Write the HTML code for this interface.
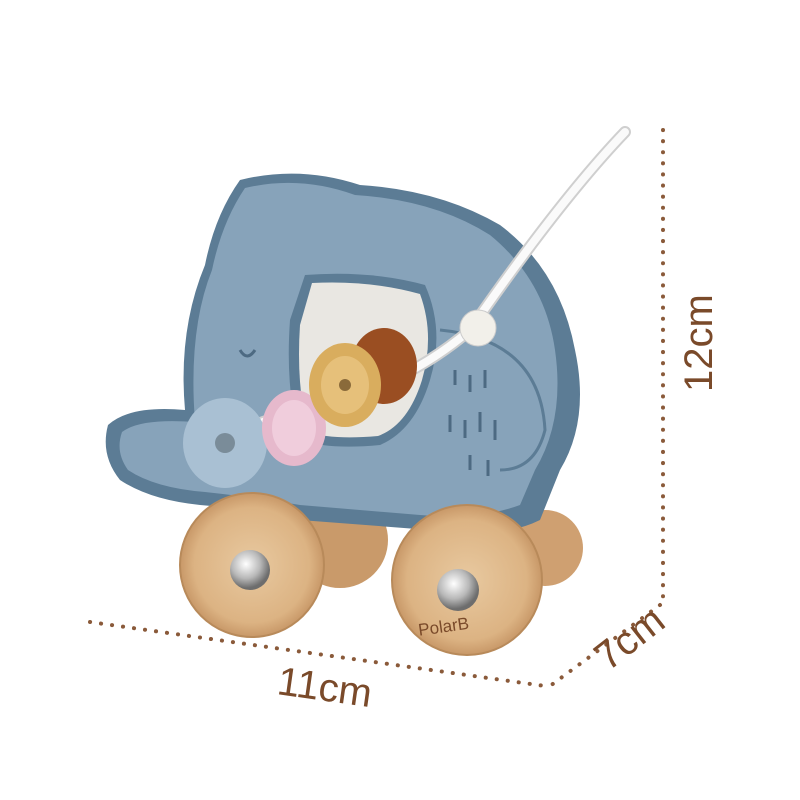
<!DOCTYPE html>
<html><head><meta charset="utf-8"><style>
html,body{margin:0;padding:0;background:#fff;}
svg{display:block}
text{font-family:"Liberation Sans",sans-serif;fill:#7a4a2a;}
</style></head><body>
<svg width="800" height="800" viewBox="0 0 800 800" xmlns="http://www.w3.org/2000/svg">
<defs>
<radialGradient id="wood" cx="0.5" cy="0.5" r="0.5">
<stop offset="0" stop-color="#e8c9a0"/><stop offset="0.8" stop-color="#dcb383"/><stop offset="1" stop-color="#c89868"/>
</radialGradient>
<radialGradient id="metal" cx="0.4" cy="0.35" r="0.6">
<stop offset="0" stop-color="#ffffff"/><stop offset="0.6" stop-color="#b8b8b8"/><stop offset="1" stop-color="#6d6d6d"/>
</radialGradient>
</defs>
<rect width="800" height="800" fill="#fff"/>
<g stroke="#8a5a3a" stroke-width="4" stroke-linecap="round" stroke-dasharray="0.1 11" fill="none">
<line x1="663" y1="130" x2="663" y2="598"/>
<line x1="660" y1="605" x2="550" y2="686"/>
<line x1="90" y1="622" x2="545" y2="686"/>
</g>
<text x="0" y="0" font-size="40" transform="translate(712,392) rotate(-90)">12cm</text>
<text x="0" y="0" font-size="40" transform="translate(608,672) rotate(-38)">7cm</text>
<text x="0" y="0" font-size="40" transform="translate(276,694) rotate(8)">11cm</text>
<circle cx="340" cy="540" r="48" fill="#c99a6a"/>
<circle cx="545" cy="548" r="38" fill="#cfa071"/>
<path d="M240 180 Q300 165 360 185 Q440 190 500 225 Q560 270 575 350 Q590 420 560 470 L540 520 Q500 540 430 530 L300 520 Q260 510 200 505 Q150 500 120 480 Q100 455 108 425 Q130 405 185 410 Q178 330 205 265 Q215 215 240 180 Z" fill="#5c7c95"/>
<path d="M245 188 Q300 175 355 195 Q435 200 490 235 Q545 280 555 350 Q565 420 535 470 L520 505 Q480 520 420 515 L300 505 Q260 498 205 492 Q155 488 128 470 Q115 452 122 432 Q140 418 195 422 Q188 330 212 270 Q222 222 245 188 Z" fill="#87a3ba"/>
<path d="M440 330 Q540 340 545 430 Q535 470 500 470" fill="none" stroke="#5c7c95" stroke-width="3"/>
<path d="M305 275 Q370 270 425 285 Q445 330 430 380 Q415 430 380 445 Q330 450 300 440 Q285 390 290 320 Z" fill="#5c7c95"/>
<path d="M312 283 Q370 280 420 294 Q435 335 422 380 Q408 425 378 436 Q332 440 308 432 Q296 385 300 325 Z" fill="#e9e7e2"/>
<path d="M240 350 Q247 362 255 350" fill="none" stroke="#4d6a82" stroke-width="3"/>
<g stroke="#4d6a82" stroke-width="3">
<line x1="455" y1="370" x2="455" y2="385"/><line x1="470" y1="375" x2="470" y2="392"/><line x1="485" y1="370" x2="485" y2="388"/>
<line x1="450" y1="415" x2="450" y2="432"/><line x1="465" y1="420" x2="465" y2="438"/><line x1="480" y1="412" x2="480" y2="432"/><line x1="495" y1="420" x2="495" y2="440"/>
<line x1="470" y1="455" x2="470" y2="470"/><line x1="488" y1="460" x2="488" y2="476"/>
</g>
<path d="M625 132 Q560 200 470 330 Q400 390 300 410 Q250 425 220 440" fill="none" stroke="#cfcfcf" stroke-width="12" stroke-linecap="round"/>
<path d="M625 132 Q560 200 470 330 Q400 390 300 410 Q250 425 220 440" fill="none" stroke="#fafafa" stroke-width="8" stroke-linecap="round"/>
<circle cx="478" cy="328" r="18" fill="#f2f0ea" stroke="#ccc"/>
<ellipse cx="225" cy="443" rx="42" ry="45" fill="#a9c0d3"/>
<ellipse cx="225" cy="443" rx="10" ry="10" fill="#7a8c99"/>
<ellipse cx="294" cy="428" rx="32" ry="38" fill="#e6b9cc"/>
<ellipse cx="294" cy="428" rx="22" ry="28" fill="#f0cddc"/>
<ellipse cx="384" cy="366" rx="33" ry="38" fill="#9a4e22"/>
<ellipse cx="345" cy="385" rx="36" ry="42" fill="#d9ad5e"/>
<ellipse cx="345" cy="385" rx="24" ry="29" fill="#e6c07a"/>
<circle cx="345" cy="385" r="6" fill="#8a6a3a"/>
<circle cx="252" cy="565" r="72" fill="url(#wood)" stroke="#b88a5a" stroke-width="2"/>
<circle cx="250" cy="570" r="20" fill="url(#metal)"/>
<circle cx="467" cy="580" r="75" fill="url(#wood)" stroke="#b88a5a" stroke-width="2"/>
<circle cx="458" cy="590" r="21" fill="url(#metal)"/>
<text x="418" y="630" font-size="17" font-family="Liberation Serif" fill="#9a6a44" transform="rotate(-8 460 625)">PolarB</text>
</svg>
</body></html>
